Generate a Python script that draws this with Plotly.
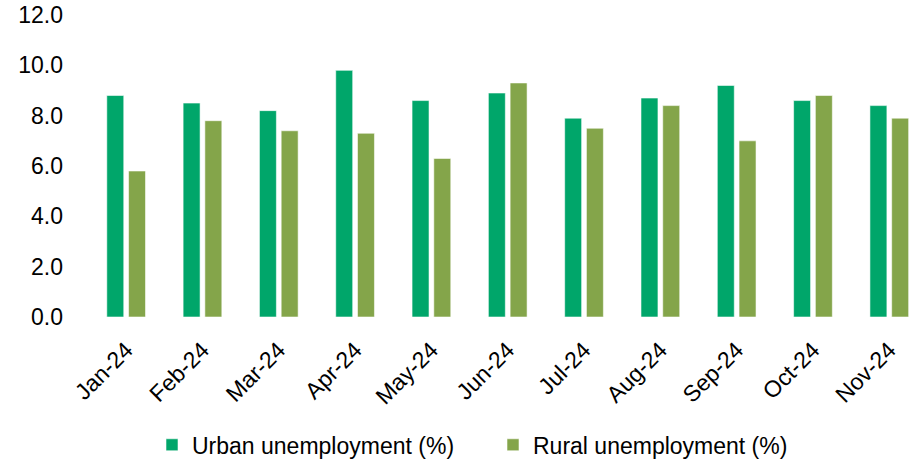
import plotly.graph_objects as go

months = ["Jan-24", "Feb-24", "Mar-24", "Apr-24", "May-24", "Jun-24",
          "Jul-24", "Aug-24", "Sep-24", "Oct-24", "Nov-24"]
urban = [8.8, 8.5, 8.2, 9.8, 8.6, 8.9, 7.9, 8.7, 9.2, 8.6, 8.4]
rural = [5.8, 7.8, 7.4, 7.3, 6.3, 9.3, 7.5, 8.4, 7.0, 8.8, 7.9]
yticks = [0, 2, 4, 6, 8, 10, 12]

URBAN_COLOR = "#00A66A"
RURAL_COLOR = "#84A54A"
FONT = "Arial, Liberation Sans, sans-serif"

fig = go.Figure()
fig.add_trace(go.Bar(x=months, y=urban, name="Urban unemployment (%)",
                     marker=dict(color=URBAN_COLOR,
                                 line=dict(color="rgba(255,255,255,0.7)", width=0.8))))
fig.add_trace(go.Bar(x=months, y=rural, name="Rural unemployment (%)",
                     marker=dict(color=RURAL_COLOR,
                                 line=dict(color="rgba(255,255,255,0.7)", width=0.8))))

fig.update_layout(
    width=916, height=460,
    margin=dict(l=88, r=0, t=15, b=143, autoexpand=False),
    paper_bgcolor="white", plot_bgcolor="white",
    barmode="group", bargap=0.43, bargroupgap=0.22,
    font=dict(family=FONT, color="#000000", size=23),
    showlegend=True,
    legend=dict(orientation="h", x=0.0773, xanchor="left",
                yref="container", y=0.033, yanchor="middle",
                font=dict(size=23, family=FONT), traceorder="normal",
                entrywidth=296, entrywidthmode="pixels",
                bgcolor="rgba(0,0,0,0)"),
    hovermode=False,
)
fig.update_xaxes(type="category", range=[-0.5, 10.35], tickangle=-45,
                 showgrid=False, showline=False, zeroline=False, ticks="",
                 automargin=False,
                 tickfont=dict(size=23, family=FONT), ticklabelstandoff=14)
fig.update_yaxes(range=[0, 12], tickvals=yticks,
                 ticktext=[f"{v:.1f}" for v in yticks],
                 showgrid=False, showline=False, zeroline=False, ticks="",
                 automargin=False,
                 tickfont=dict(size=23, family=FONT), ticklabelstandoff=24)

fig.write_html("out.html")
